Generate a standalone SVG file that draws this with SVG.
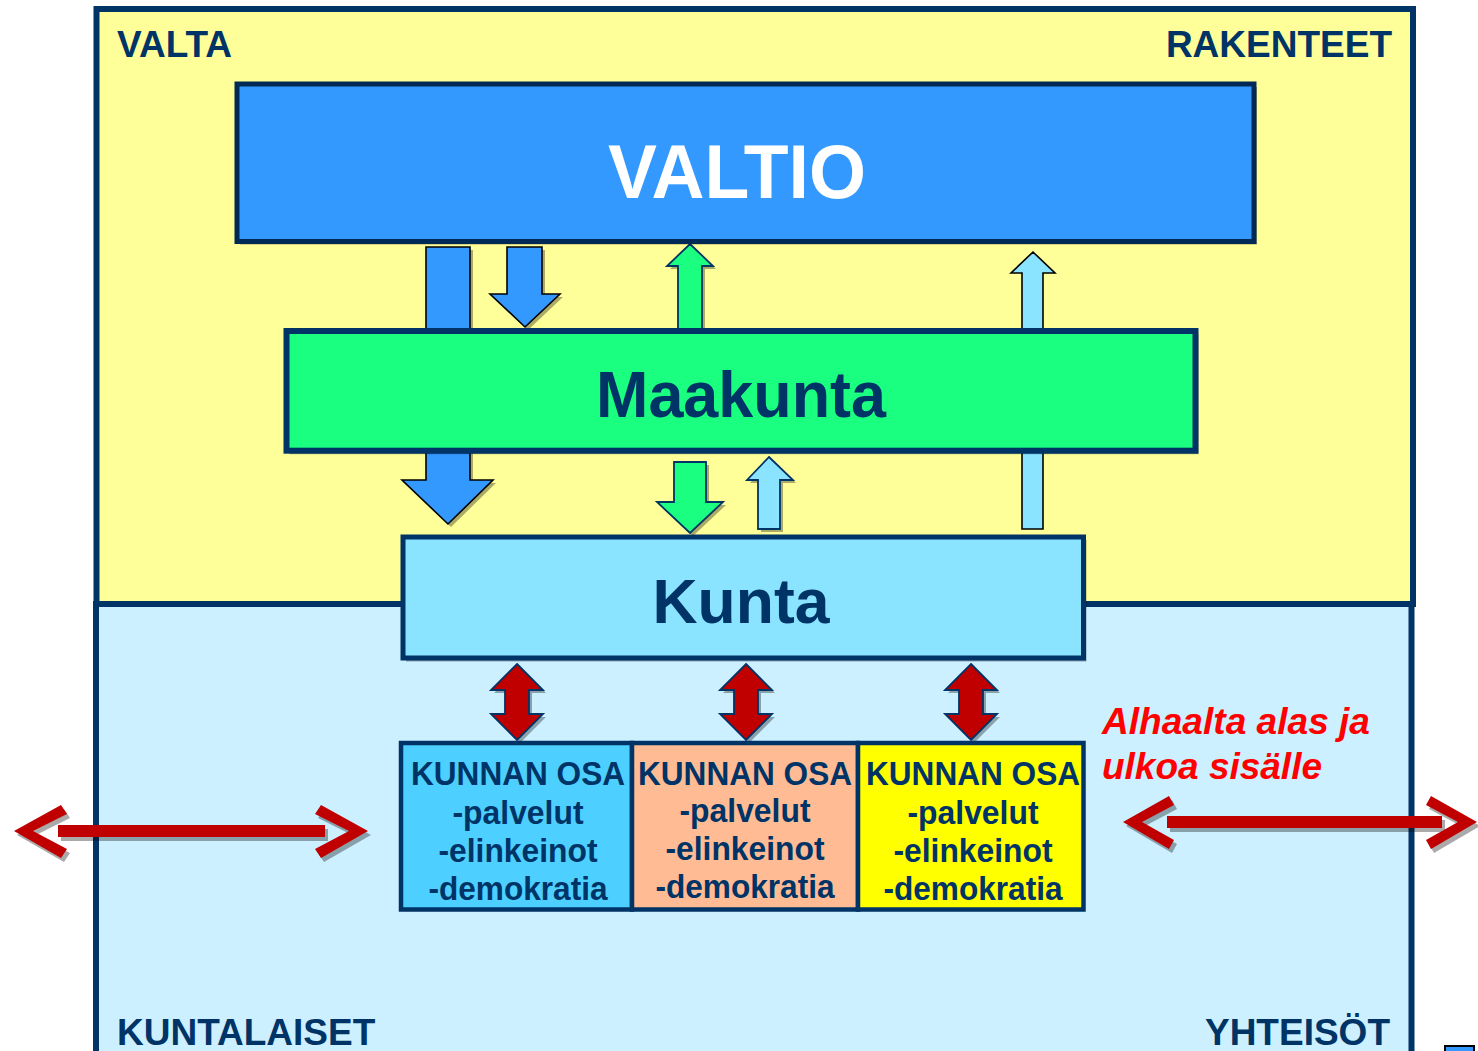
<svg xmlns="http://www.w3.org/2000/svg" width="1478" height="1051" viewBox="0 0 1478 1051">
<defs>
<style>
.t{font-family:"Liberation Sans",Arial,sans-serif;font-weight:bold;}
.navy{fill:#003366;}
.sh{fill:#000;opacity:0.33;}
.corner{font-size:37px;}
.osa{font-size:33px;text-anchor:middle;}
.red{fill:#FF0000;font-style:italic;font-size:37px;}
.ak{stroke:#000;stroke-width:1.6;stroke-linejoin:miter;}
.an{stroke:#003366;stroke-width:1.8;stroke-linejoin:miter;}
.rd{fill:#C00000;}
</style>
</defs>
<rect width="1478" height="1051" fill="#FFFFFF"/>

<g id="regions">
<rect x="96" y="604" width="1315.5" height="460" fill="#CCF0FF" stroke="#003366" stroke-width="6"/>
<rect x="96.5" y="9" width="1316.5" height="595" fill="#FFFF99" stroke="#003366" stroke-width="6"/>
</g>

<g id="labels">
<text class="t navy corner" x="117" y="57">VALTA</text>
<text class="t navy corner" x="1392" y="57" text-anchor="end">RAKENTEET</text>
<text class="t navy corner" x="117" y="1045">KUNTALAISET</text>
<text class="t navy corner" x="1390" y="1045" text-anchor="end">YHTEISÖT</text>
<text class="t red" x="1102" y="734" textLength="268" lengthAdjust="spacingAndGlyphs">Alhaalta alas ja</text>
<text class="t red" x="1102" y="779" textLength="220" lengthAdjust="spacingAndGlyphs">ulkoa sisälle</text>
</g>

<g id="connectors">
<polygon class="sh" transform="translate(3,3)" points="426,247 470,247 470,480 493,480 448,524 402,480 426,480"/>
<polygon class="ak" fill="#3399FF" points="426,247 470,247 470,480 493,480 448,524 402,480 426,480"/>
<polygon class="sh" transform="translate(3,3)" points="507,247 542,247 542,294 560,294 525,327 490,294 507,294"/>
<polygon class="ak" fill="#3399FF" points="507,247 542,247 542,294 560,294 525,327 490,294 507,294"/>
<polygon class="sh" transform="translate(3,3)" points="690,244 713,266 702,266 702,329 678,329 678,266 667,266"/>
<polygon class="an" fill="#1AFF80" points="690,244 713,266 702,266 702,329 678,329 678,266 667,266"/>
<polygon class="ak" fill="#8AE3FF" points="1033,252 1055,273 1043,273 1043,529 1022,529 1022,273 1011,273"/>
<polygon class="sh" transform="translate(3,3)" points="674,462 706,462 706,502 723,502 690,533 657,502 674,502"/>
<polygon class="an" fill="#1AFF80" points="674,462 706,462 706,502 723,502 690,533 657,502 674,502"/>
<polygon class="sh" transform="translate(3,3)" points="769,457 793,480 780,480 780,529 758,529 758,480 747,480"/>
<polygon class="an" fill="#8AE3FF" points="769,457 793,480 780,480 780,529 758,529 758,480 747,480"/>
<g id="red-double-1">
<polygon class="sh" transform="translate(3,3)" points="517,664 543,690 529,690 529,714 543,714 517,740 491,714 505,714 505,690 491,690"/>
<polygon class="an rd" points="517,664 543,690 529,690 529,714 543,714 517,740 491,714 505,714 505,690 491,690"/>
</g>
<g id="red-double-2">
<polygon class="sh" transform="translate(3,3)" points="746,664 772,690 758,690 758,714 772,714 746,740 720,714 734,714 734,690 720,690"/>
<polygon class="an rd" points="746,664 772,690 758,690 758,714 772,714 746,740 720,714 734,714 734,690 720,690"/>
</g>
<g id="red-double-3">
<polygon class="sh" transform="translate(3,3)" points="971,664 997,690 983,690 983,714 997,714 971,740 945,714 959,714 959,690 945,690"/>
<polygon class="an rd" points="971,664 997,690 983,690 983,714 997,714 971,740 945,714 959,714 959,690 945,690"/>
</g>
<g id="red-h-left">
<g class="sh" transform="translate(3,4)">
<rect x="58" y="825" width="267" height="12"/>
<polygon points="14,831 61,805 67,814 33,831 67,849 61,858"/>
<polygon points="368,831 321,805 315,814 349,831 315,849 321,858"/>
</g>
<g class="rd">
<rect x="58" y="825" width="267" height="12"/>
<polygon points="14,831 61,805 67,814 33,831 67,849 61,858"/>
<polygon points="368,831 321,805 315,814 349,831 315,849 321,858"/>
</g>
</g>
<g id="red-h-right">
<g class="sh" transform="translate(3,4)">
<rect x="1167" y="816" width="275" height="12"/>
<polygon points="1123,822 1169,796 1174,805 1142,822 1174,840 1169,849"/>
<polygon points="1477,822 1431,796 1426,805 1458,822 1426,840 1431,849"/>
</g>
<g class="rd">
<rect x="1167" y="816" width="275" height="12"/>
<polygon points="1123,822 1169,796 1174,805 1142,822 1174,840 1169,849"/>
<polygon points="1477,822 1431,796 1426,805 1458,822 1426,840 1431,849"/>
</g>
</g>
</g>

<g id="valtio">
<rect class="sh" x="240" y="87" width="1017" height="157.5"/>
<rect x="237" y="84" width="1017" height="157.5" fill="#3399FF" stroke="#002A55" stroke-width="5"/>
<text class="t" x="737" y="198" font-size="76" fill="#FFFFFF" text-anchor="middle" textLength="258" lengthAdjust="spacingAndGlyphs">VALTIO</text>
</g>

<g id="maakunta">
<rect class="sh" x="289.5" y="334.5" width="909" height="119.7"/>
<rect x="286.5" y="331" width="909" height="119.7" fill="#1AFF80" stroke="#003366" stroke-width="6"/>
<text class="t navy" x="741" y="417" font-size="64" text-anchor="middle" textLength="290" lengthAdjust="spacingAndGlyphs">Maakunta</text>
</g>

<g id="kunta">
<rect class="sh" x="406" y="540" width="680.5" height="121.5"/>
<rect x="403" y="537" width="680.5" height="121" fill="#8AE3FF" stroke="#003366" stroke-width="5"/>
<text class="t navy" x="741" y="623" font-size="63" text-anchor="middle" textLength="177" lengthAdjust="spacingAndGlyphs">Kunta</text>
</g>

<g id="kunnan-osa-1">
<rect x="401" y="743" width="231" height="166.5" fill="#4DCFFF" stroke="#003366" stroke-width="4.5"/>
<text class="t navy osa" x="518" y="785" textLength="214" lengthAdjust="spacingAndGlyphs">KUNNAN OSA</text>
<text class="t navy osa" x="518" y="824" textLength="131" lengthAdjust="spacingAndGlyphs">-palvelut</text>
<text class="t navy osa" x="518" y="862" textLength="159" lengthAdjust="spacingAndGlyphs">-elinkeinot</text>
<text class="t navy osa" x="518" y="900" textLength="179" lengthAdjust="spacingAndGlyphs">-demokratia</text>
</g>
<g id="kunnan-osa-2">
<rect x="632" y="743" width="226" height="166.5" fill="#FFBB94" stroke="#003366" stroke-width="4.5"/>
<text class="t navy osa" x="745" y="785" textLength="214" lengthAdjust="spacingAndGlyphs">KUNNAN OSA</text>
<text class="t navy osa" x="745" y="822" textLength="131" lengthAdjust="spacingAndGlyphs">-palvelut</text>
<text class="t navy osa" x="745" y="860" textLength="159" lengthAdjust="spacingAndGlyphs">-elinkeinot</text>
<text class="t navy osa" x="745" y="898" textLength="179" lengthAdjust="spacingAndGlyphs">-demokratia</text>
</g>
<g id="kunnan-osa-3">
<rect x="858" y="743" width="225.5" height="166.5" fill="#FFFF00" stroke="#003366" stroke-width="4.5"/>
<text class="t navy osa" x="973" y="785" textLength="214" lengthAdjust="spacingAndGlyphs">KUNNAN OSA</text>
<text class="t navy osa" x="973" y="824" textLength="131" lengthAdjust="spacingAndGlyphs">-palvelut</text>
<text class="t navy osa" x="973" y="862" textLength="159" lengthAdjust="spacingAndGlyphs">-elinkeinot</text>
<text class="t navy osa" x="973" y="900" textLength="179" lengthAdjust="spacingAndGlyphs">-demokratia</text>
</g>

<g id="corner-fragment">
<rect x="1445" y="1046" width="29" height="12" fill="#3399FF" stroke="#000" stroke-width="2"/>
</g>
</svg>
